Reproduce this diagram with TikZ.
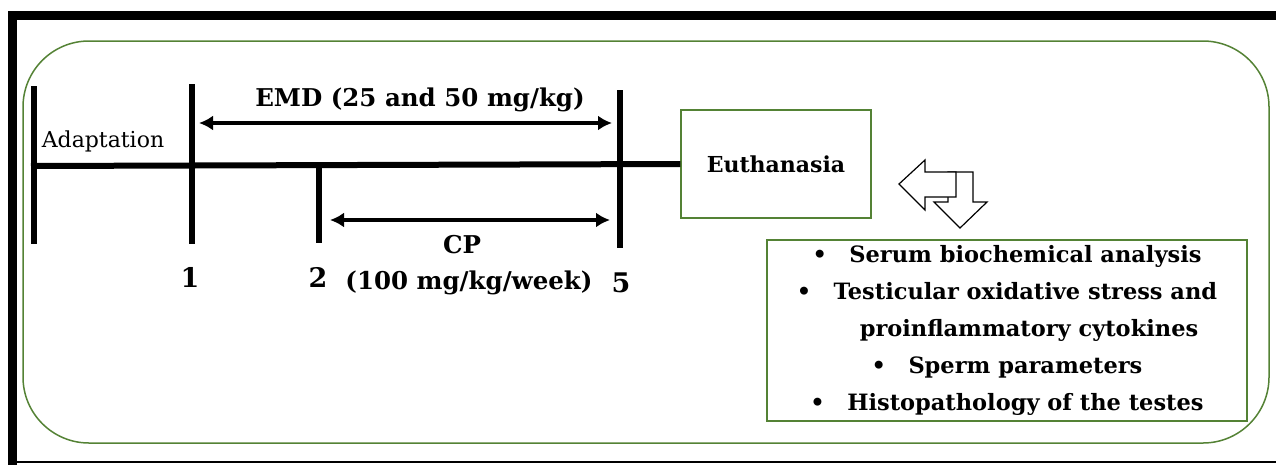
\documentclass[tikz,border=0pt]{standalone}
\usepackage{fontspec}
\setmainfont{DejaVu Serif}
\usetikzlibrary{positioning,arrows.meta}
\definecolor{frameg}{HTML}{548235}

\begin{document}
\begin{tikzpicture}[x=1pt, y=-1pt,
    gbox/.style={draw=frameg, line width=1.5pt, fill=white},
    tickline/.style={line width=6pt},
    dose/.style={{Latex[length=14pt,width=15pt]}-{Latex[length=14pt,width=15pt]}, line width=4pt},
    lbl/.style={font=\bfseries\fontsize{24.5}{28}\selectfont, inner sep=0pt},
    num/.style={font=\bfseries\fontsize{27}{30}\selectfont, inner sep=0pt},
    blockarr/.style={draw, line width=1.2pt, fill=white, line join=miter}
]
    \useasboundingbox (0,0) rectangle (1276,464);
    % outer frame
    \draw[line width=9pt] (12.5,470) -- (12.5,15.5) -- (1290,15.5);
    \draw[line width=2pt] (8,462) -- (1290,462);
    \draw[frameg, line width=1.5pt, rounded corners=66pt] (23,41) rectangle (1269,443);

    % timeline
    \coordinate (t0a) at (34,86);   \coordinate (t0b) at (34,244);
    \coordinate (t1a) at (192,84);  \coordinate (t1b) at (192,244);
    \coordinate (t2a) at (319,163); \coordinate (t2b) at (319,243);
    \coordinate (t5a) at (620,90);  \coordinate (t5b) at (620,248);
    \coordinate (tl0) at (31,166);

    \node[gbox, minimum width=190pt, minimum height=108pt, font=\bfseries\fontsize{22}{26}\selectfont] (euth) at (776,164) {Euthanasia};

    \draw[tickline] (tl0) -- (euth.west);
    \foreach \t in {0,1,2,5}
        \draw[tickline] (t\t a) -- (t\t b);

    \node[font=\fontsize{22}{24}\selectfont, inner sep=0pt] (adapt) at (103,141) {Adaptation};
    \node[num] (n1) at (190,277) {1};
    \node[num] (n2) at (318,277) {2};
    \node[num] (n5) at (621,283) {5};

    % dosing periods
    \coordinate (emdL) at (199,123); \coordinate (emdR) at (612,123);
    \coordinate (cpL) at (330,220);  \coordinate (cpR) at (610,220);
    \draw[dose] (emdL) -- (emdR);
    \draw[dose] (cpL) -- (cpR);
    \node[lbl] (emd) at (420,100) {EMD (25 and 50 mg/kg)};
    \node[lbl] (cp) at (462,245) {CP};
    \node[lbl] (cpdose) at (469,283) {(100 mg/kg/week)};

    % block arrows
    \draw[blockarr] (948,172) -- (973,172) -- (973,202) -- (987,202) -- (960,228) -- (934,202) -- (948,202) -- cycle;
    \draw[blockarr] (899,184) -- (925,160) -- (925,172) -- (956,172) -- (956,197) -- (925,197) -- (925,210) -- cycle;

    % analyses
    \node[gbox, minimum width=480pt, minimum height=181pt, align=center, font=\bfseries\fontsize{22.5}{37}\selectfont] (res) at (1007,330.5)
        {•\quad Serum biochemical analysis\\
         •\quad Testicular oxidative stress and\\
         \hspace*{44pt}proinflammatory cytokines\\
         •\quad Sperm parameters\\
         •\quad Histopathology of the testes};
\end{tikzpicture}
\end{document}
